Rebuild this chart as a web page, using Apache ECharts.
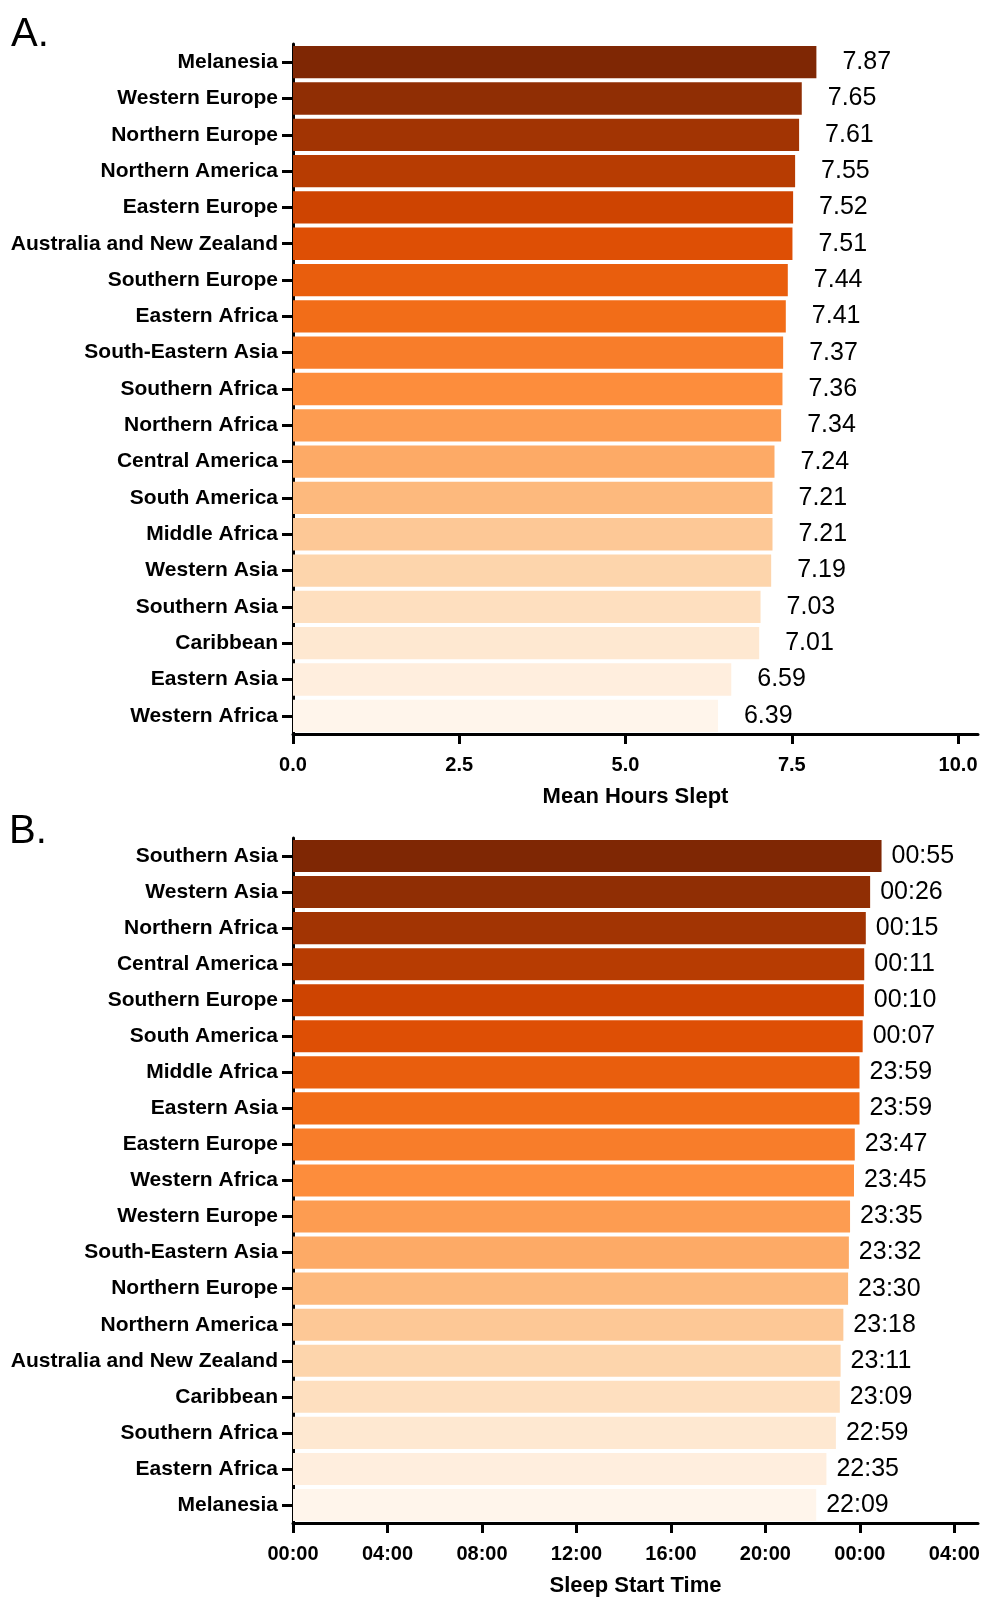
<!DOCTYPE html>
<html>
<head>
<meta charset="utf-8">
<script src="https://cdn.jsdelivr.net/npm/echarts@6/dist/echarts.min.js"></script>
<style>
html,body{margin:0;padding:0;background:#fff;}
#c{width:983px;height:1598px;}
</style>
</head>
<body>
<div id="c"></div>
<script>
// ---- Data ----
const regionsA = ['Melanesia','Western Europe','Northern Europe','Northern America','Eastern Europe','Australia and New Zealand','Southern Europe','Eastern Africa','South-Eastern Asia','Southern Africa','Northern Africa','Central America','South America','Middle Africa','Western Asia','Southern Asia','Caribbean','Eastern Asia','Western Africa'];
const hoursA = [7.87,7.65,7.61,7.55,7.52,7.51,7.44,7.41,7.37,7.36,7.34,7.24,7.21,7.21,7.19,7.03,7.01,6.59,6.39];
const ticksA = [0,2.5,5,7.5,10];

const regionsB = ['Southern Asia','Western Asia','Northern Africa','Central America','Southern Europe','South America','Middle Africa','Eastern Asia','Eastern Europe','Western Africa','Western Europe','South-Eastern Asia','Northern Europe','Northern America','Australia and New Zealand','Caribbean','Southern Africa','Eastern Africa','Melanesia'];
const startB = ['00:55','00:26','00:15','00:11','00:10','00:07','23:59','23:59','23:47','23:45','23:35','23:32','23:30','23:18','23:11','23:09','22:59','22:35','22:09'];
const ticksB = [0,4,8,12,16,20,24,28];

// ---- Helpers ----
function toHours(s){ const [h,m]=s.split(':').map(Number); let v=h+m/60; if(v<12) v+=24; return v; }
const valuesB = startB.map(toHours);
function fmtClock(v){ const h=((v%24)+24)%24; return String(h).padStart(2,'0')+':00'; }

// Oranges colormap
const anchors = [[255,245,235],[254,230,206],[253,208,162],[253,174,107],[253,141,60],[241,105,19],[217,72,1],[166,54,3],[127,39,4]];
function oranges(t){
  const p=t*(anchors.length-1); const i=Math.min(Math.floor(p),anchors.length-2); const f=p-i;
  const c=anchors[i].map((a,k)=>Math.round(a+(anchors[i+1][k]-a)*f));
  return 'rgb('+c.join(',')+')';
}
function colorFor(idx,n){ return oranges(1 - idx/(n-1)); }

const FONT = 'Arial, "Liberation Sans", sans-serif';

function yAxisCfg(gridIndex, cats){
  return {
    type:'category', gridIndex, data:cats, inverse:true,
    axisLine:{show:true, lineStyle:{color:'#000', width:3}},
    axisTick:{show:true, alignWithLabel:true, length:11, lineStyle:{color:'#000', width:3}},
    axisLabel:{margin:15, color:'#000', fontSize:21, fontWeight:'bold', fontFamily:FONT},
    splitLine:{show:false}
  };
}
function xAxisCfg(gridIndex, max, ticks, fmt, name){
  return {
    type:'value', gridIndex, min:0, max,
    axisLine:{show:true, onZero:false, lineStyle:{color:'#000', width:3}},
    axisTick:{show:true, length:10, customValues:ticks, lineStyle:{color:'#000', width:3}},
    axisLabel:{customValues:ticks, formatter:fmt, margin:21, color:'#000', fontSize:20, fontWeight:'bold', fontFamily:FONT},
    splitLine:{show:false},
    name, nameLocation:'middle', nameGap:52,
    nameTextStyle:{color:'#000', fontSize:22, fontWeight:'bold', fontFamily:FONT}
  };
}

const chart = echarts.init(document.getElementById('c'), null, {renderer:'canvas'});
chart.setOption({
  backgroundColor:'#fff',
  animation:false,
  graphic:[
    {type:'text', left:11, top:15, style:{text:'A.', fontSize:40, fontFamily:FONT, fill:'#000'}},
    {type:'text', left:9, top:812, style:{text:'B.', fontSize:40, fontFamily:FONT, fill:'#000'}}
  ],
  grid:[
    {left:293, top:44, width:685, height:690},
    {left:293, top:838, width:685, height:691}
  ],
  xAxis:[
    xAxisCfg(0, 10.3, ticksA, v=>v.toFixed(1), 'Mean Hours Slept'),
    xAxisCfg(1, 29, ticksB, fmtClock, 'Sleep Start Time')
  ],
  yAxis:[ yAxisCfg(0, regionsA), yAxisCfg(1, regionsB) ],
  series:[
    {
      type:'bar', xAxisIndex:0, yAxisIndex:0, barCategoryGap:'11%',
      data: hoursA.map((v,i)=>({value:v, itemStyle:{color:colorFor(i,hoursA.length)}})),
      label:{show:true, position:'right', distance:26, color:'#000', fontSize:25, fontFamily:FONT, formatter:p=>p.value.toFixed(2)}
    },
    {
      type:'bar', xAxisIndex:1, yAxisIndex:1, barCategoryGap:'11%',
      data: valuesB.map((v,i)=>({value:v, itemStyle:{color:colorFor(i,valuesB.length)}})),
      label:{show:true, position:'right', distance:10, color:'#000', fontSize:25, fontFamily:FONT, formatter:p=>startB[p.dataIndex]}
    }
  ]
});
</script>
</body>
</html>
